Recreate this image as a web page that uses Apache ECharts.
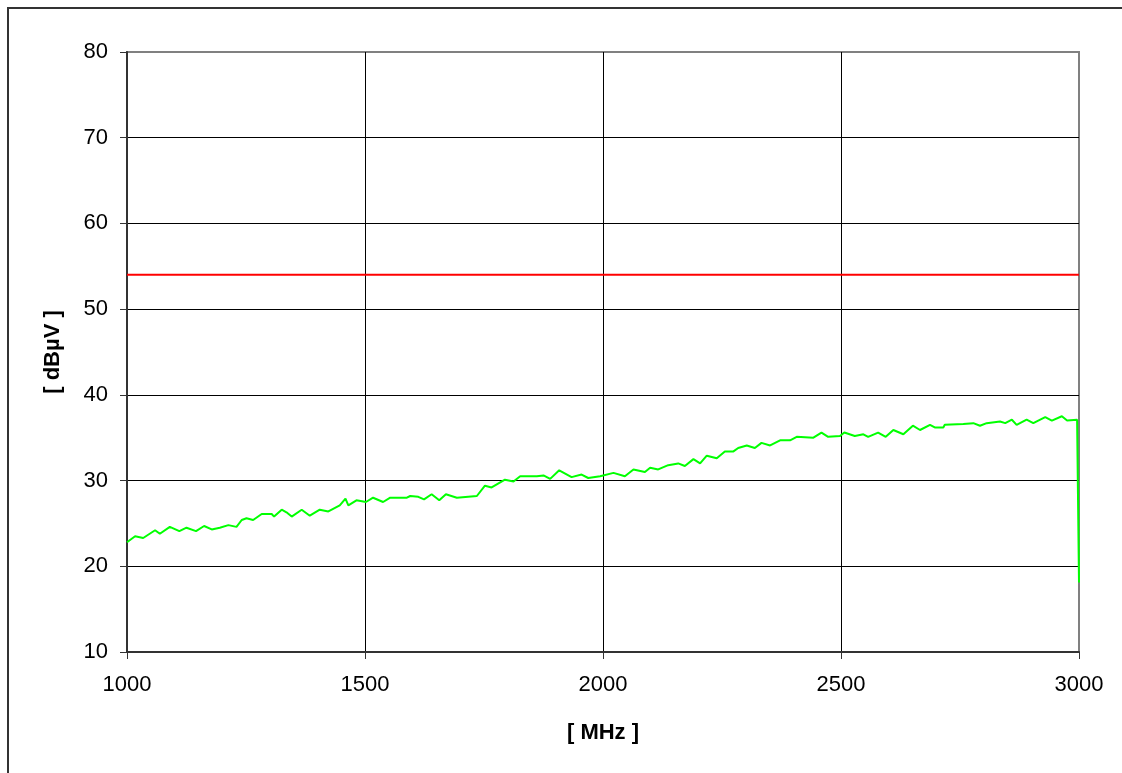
<!DOCTYPE html>
<html>
<head>
<meta charset="utf-8">
<script src="https://cdn.jsdelivr.net/npm/echarts@6/dist/echarts.min.js"></script>
<style>html,body{margin:0;padding:0;background:#fff;}#c{width:1122px;height:773px;}</style>
</head>
<body>
<div id="c"></div>
<script>
var xTicks = [1000, 1500, 2000, 2500, 3000];
var yTicks = [10, 20, 30, 40, 50, 60, 70, 80];
var limitFreq = [1000, 3000];
var limitLevel = [54, 54];
var measFreq = [1000,1017,1034,1059,1069,1090,1110,1125,1145,1162,1178,1195,1213,1230,1241,1251,1265,1283,1304,1309,1325,1335,1346,1367,1384,1405,1423,1447,1459,1465,1482,1502,1517,1538,1553,1588,1595,1612,1624,1640,1656,1670,1693,1735,1752,1766,1794,1812,1826,1861,1875,1889,1908,1934,1955,1969,1994,2022,2046,2064,2088,2099,2116,2137,2158,2172,2190,2204,2218,2239,2256,2274,2284,2302,2319,2333,2351,2372,2393,2407,2442,2459,2473,2498,2507,2529,2547,2557,2578,2594,2610,2631,2651,2666,2687,2697,2715,2718,2757,2778,2792,2806,2834,2845,2859,2869,2890,2904,2929,2943,2964,2975,2996,2999,3000];
var measLevel = [22.8,23.5,23.3,24.2,23.8,24.6,24.1,24.5,24.1,24.7,24.3,24.5,24.8,24.6,25.4,25.6,25.4,26.1,26.1,25.8,26.6,26.3,25.8,26.6,25.9,26.6,26.4,27.1,27.9,27.1,27.7,27.5,28.0,27.5,28.0,28.0,28.2,28.1,27.8,28.4,27.7,28.4,28.0,28.2,29.4,29.2,30.1,29.9,30.5,30.5,30.6,30.2,31.2,30.4,30.7,30.3,30.5,30.9,30.5,31.3,31.0,31.5,31.3,31.8,32.0,31.7,32.5,32.0,32.9,32.6,33.4,33.4,33.8,34.1,33.8,34.4,34.1,34.7,34.7,35.1,35.0,35.6,35.1,35.2,35.6,35.2,35.4,35.1,35.6,35.1,35.9,35.4,36.4,35.9,36.5,36.2,36.2,36.5,36.6,36.7,36.4,36.7,36.9,36.7,37.1,36.5,37.1,36.7,37.4,37.0,37.5,37.0,37.1,37.1,18.1];

function pairs(xs, ys){ return xs.map(function(x,i){ return [x, ys[i]]; }); }

var chart = echarts.init(document.getElementById('c'), null, {renderer:'canvas'});
var font = '"Liberation Sans", Arial, sans-serif';
chart.setOption({
  animation: false,
  backgroundColor: '#fff',
  graphic: [{
    type: 'rect', z: -10,
    shape: {x: 8, y: 8, width: 1300, height: 1000},
    style: {fill: 'none', stroke: '#333', lineWidth: 2}
  }],
  grid: {left: 127, top: 52, right: 43, bottom: 121, show: true, borderColor: '#808080', borderWidth: 2, backgroundColor: 'transparent'},
  xAxis: {
    type: 'value', min: xTicks[0], max: xTicks[xTicks.length-1], interval: 500,
    name: '[ MHz ]', nameLocation: 'middle', nameGap: 70,
    nameTextStyle: {fontFamily: font, fontSize: 22, fontWeight: 'bold', color: '#000'},
    axisLine: {show: true, onZero: false, lineStyle: {color: '#333', width: 2}},
    axisTick: {show: true, length: 7, lineStyle: {color: '#333', width: 1}},
    axisLabel: {fontFamily: font, fontSize: 22, color: '#000', margin: 22, formatter: function(v){ return String(v); }},
    splitLine: {show: true, showMinLine: false, showMaxLine: false, lineStyle: {color: '#000', width: 1}}
  },
  yAxis: {
    type: 'value', min: yTicks[0], max: yTicks[yTicks.length-1], interval: 10,
    name: '[ dBµV ]', nameLocation: 'middle', nameGap: 63, nameRotate: 90,
    nameTextStyle: {fontFamily: font, fontSize: 22, fontWeight: 'bold', color: '#000'},
    axisLine: {show: true, onZero: false, lineStyle: {color: '#333', width: 2}},
    axisTick: {show: true, length: 7, lineStyle: {color: '#333', width: 1}},
    axisLabel: {fontFamily: font, fontSize: 22, color: '#000', margin: 19, formatter: function(v){ return String(v); }},
    splitLine: {show: true, showMinLine: false, showMaxLine: false, lineStyle: {color: '#000', width: 1}}
  },
  series: [
    {type: 'line', data: pairs(limitFreq, limitLevel), symbol: 'none', lineStyle: {color: '#ff0000', width: 2}, z: 3},
    {type: 'line', data: pairs(measFreq, measLevel), symbol: 'none', lineStyle: {color: '#00ff00', width: 2}, z: 4}
  ]
});
</script>
</body>
</html>
